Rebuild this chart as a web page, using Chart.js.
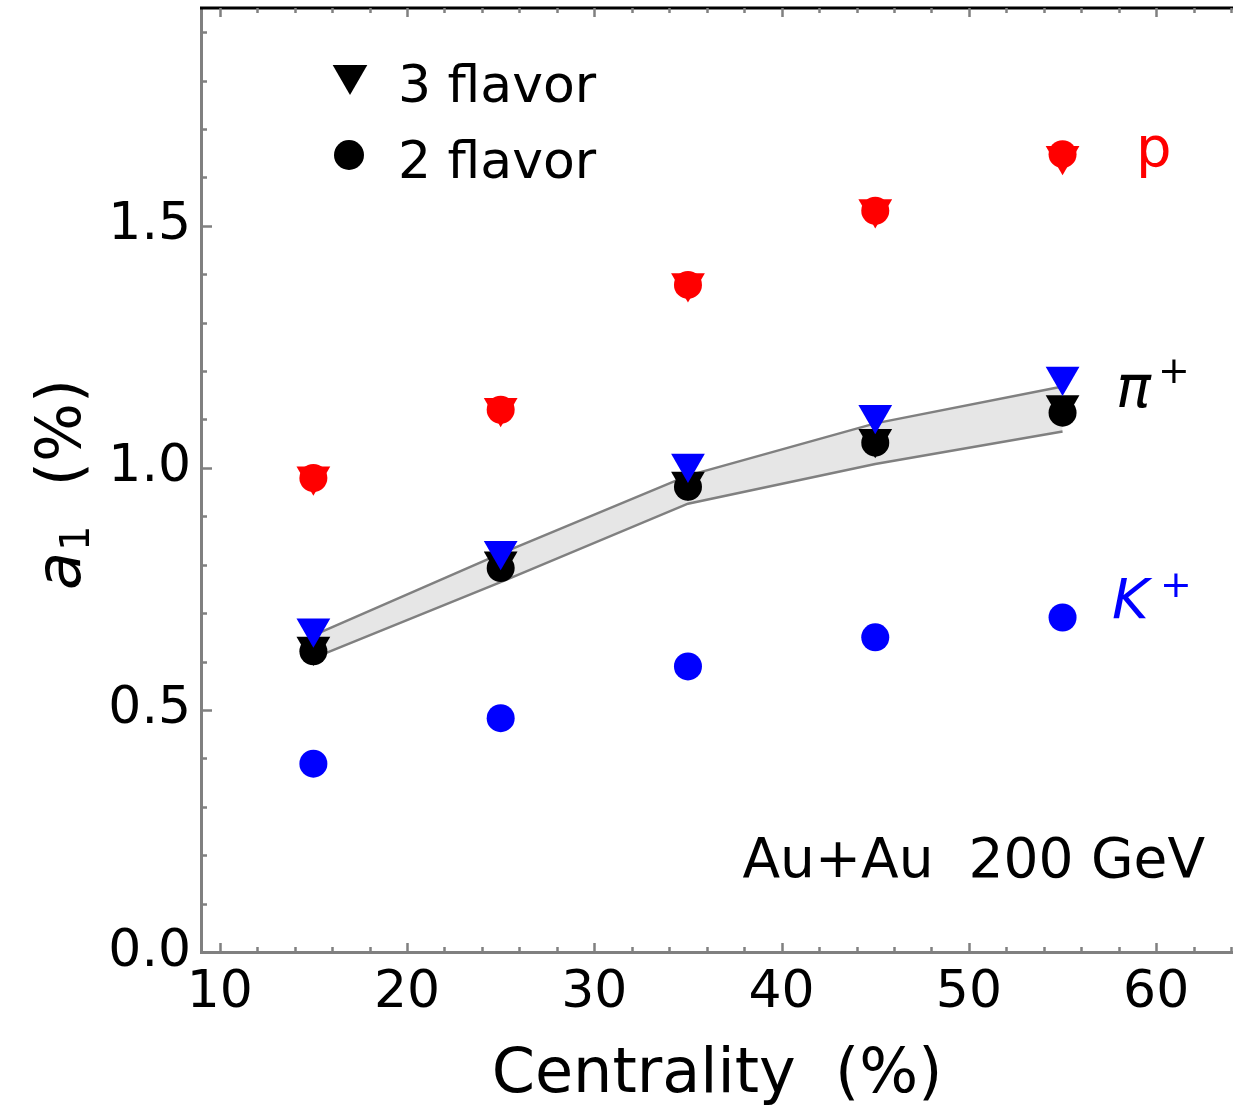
<!DOCTYPE html>
<html>
<head>
<meta charset="utf-8">
<script src="https://cdn.jsdelivr.net/npm/chart.js@4/dist/chart.umd.min.js"></script>
<style>
  html, body { margin: 0; padding: 0; background: #fff; }
  #wrap { width: 1233px; height: 1111px; }
</style>
</head>
<body>
<div id="wrap"><canvas id="a1Chart" width="1233" height="1111"></canvas></div>
<script>
/* a1 vs centrality, Au+Au 200 GeV */

const CENTRALITY = [15, 25, 35, 45, 55];

// proton (red)
const P_3FLAVOR = [0.983, 1.124, 1.382, 1.535, 1.645];
const P_2FLAVOR = [0.979, 1.120, 1.378, 1.531, 1.648];
// pi+ (black)
const PI_3FLAVOR = [0.631, 0.807, 0.972, 1.060, 1.130];
const PI_2FLAVOR = [0.621, 0.793, 0.961, 1.052, 1.114];
// K+ (blue)
const K_3FLAVOR = [0.669, 0.829, 1.009, 1.110, 1.189];
const K_2FLAVOR = [0.389, 0.483, 0.590, 0.650, 0.691];
// grey band around pi+
const BAND_UPPER = [0.654, 0.823, 0.984, 1.092, 1.168];
const BAND_LOWER = [0.607, 0.764, 0.926, 1.008, 1.075];

const X_TICKS = [10, 20, 30, 40, 50, 60];
const Y_TICKS = [0.0, 0.5, 1.0, 1.5];

const FONT = "'DejaVu Sans', sans-serif";
const RED = '#ff0000', BLUE = '#0000ff', BLACK = '#000000', GREY = '#808080';

const pts = ys => CENTRALITY.map((x, i) => ({ x, y: ys[i] }));

function markers(label, ys, color, style) {
  const tri = style === 'triangle';
  return {
    label,
    data: pts(ys),
    showLine: false,
    pointStyle: style,
    rotation: tri ? 180 : 0,
    pointRadius: tri ? 19.5 : 14,
    pointBackgroundColor: color,
    pointBorderWidth: 0,
    borderColor: color,
  };
}

/* ── inward ticks, top frame, legend and labels ── */
const decor = {
  id: 'decor',
  afterDraw(chart) {
    const { ctx, chartArea: ca, scales: { x, y } } = chart;
    ctx.save();

    // top frame
    ctx.strokeStyle = BLACK;
    ctx.lineWidth = 3;
    ctx.beginPath();
    ctx.moveTo(ca.left - 1, ca.top);
    ctx.lineTo(ca.right, ca.top);
    ctx.stroke();

    ctx.strokeStyle = GREY;
    ctx.lineWidth = 2.5;
    ctx.beginPath();
    for (let i = 0; i <= 19; i++) {
      const v = i / 10;
      const py = Math.round(y.getPixelForValue(v)) + 0.5;
      const len = i % 5 === 0 ? 11 : 6;
      ctx.moveTo(ca.left, py);
      ctx.lineTo(ca.left + len, py);
    }
    for (let v = 10; v <= 64; v += 2) {
      const px = Math.round(x.getPixelForValue(v)) + 0.5;
      const len = v % 10 === 0 ? 9 : 5;
      ctx.moveTo(px, ca.bottom);
      ctx.lineTo(px, ca.bottom - len);
      ctx.moveTo(px, ca.top);
      ctx.lineTo(px, ca.top + len);
    }
    ctx.stroke();

    // legend
    ctx.fillStyle = BLACK;
    Chart.helpers.drawPoint(ctx, { pointStyle: 'triangle', rotation: 180, radius: 20, borderWidth: 0 }, 350, 75);
    Chart.helpers.drawPoint(ctx, { pointStyle: 'circle', radius: 15, borderWidth: 0 }, 349, 155);
    ctx.font = `52px ${FONT}`;
    ctx.textBaseline = 'alphabetic';
    ctx.textAlign = 'left';
    ctx.fillText('3 flavor', 398, 102);
    ctx.fillText('2 flavor', 398, 178);

    // species labels
    ctx.fillStyle = RED;
    ctx.font = `56px ${FONT}`;
    ctx.fillText('p', 1136, 166);

    ctx.fillStyle = BLACK;
    ctx.font = `italic 58px ${FONT}`;
    ctx.fillText('π', 1116, 407);
    ctx.font = `38px ${FONT}`;
    ctx.fillText('+', 1158, 383);

    ctx.fillStyle = BLUE;
    ctx.font = `italic 56px ${FONT}`;
    ctx.fillText('K', 1112, 618);
    ctx.font = `38px ${FONT}`;
    ctx.fillText('+', 1160, 597);

    // system label
    ctx.fillStyle = BLACK;
    ctx.font = `55px ${FONT}`;
    ctx.textAlign = 'right';
    ctx.fillText('Au+Au  200 GeV', 1205, 877);

    // y title: a_1  (%)
    ctx.translate(80, 590);
    ctx.rotate(-Math.PI / 2);
    ctx.textAlign = 'left';
    ctx.font = `italic 62px ${FONT}`;
    ctx.fillText('a', 0, 0);
    let off = ctx.measureText('a').width + 1;
    ctx.font = `40px ${FONT}`;
    ctx.fillText('1', off, 9);
    off += ctx.measureText('1').width;
    ctx.font = `62px ${FONT}`;
    ctx.fillText('  (%)', off, 0);

    ctx.restore();
  }
};

new Chart(document.getElementById('a1Chart'), {
  type: 'line',
  data: {
    datasets: [
      markers('K+ 3 flavor', K_3FLAVOR, BLUE, 'triangle'),
      markers('p 3 flavor', P_3FLAVOR, RED, 'triangle'),
      markers('p 2 flavor', P_2FLAVOR, RED, 'circle'),
      markers('pi+ 3 flavor', PI_3FLAVOR, BLACK, 'triangle'),
      markers('pi+ 2 flavor', PI_2FLAVOR, BLACK, 'circle'),
      markers('K+ 2 flavor', K_2FLAVOR, BLUE, 'circle'),
      {
        label: 'band upper',
        data: pts(BAND_UPPER),
        borderColor: GREY,
        borderWidth: 2.5,
        pointRadius: 0,
        tension: 0,
        fill: '+1',
        backgroundColor: '#e6e6e6',
      },
      {
        label: 'band lower',
        data: pts(BAND_LOWER),
        borderColor: GREY,
        borderWidth: 2.5,
        pointRadius: 0,
        tension: 0,
        fill: false,
      },
    ]
  },
  options: {
    responsive: false,
    animation: false,
    layout: { autoPadding: false, padding: { top: 8, right: 0, left: 0, bottom: 0 } },
    plugins: {
      legend: { display: false },
      tooltip: { enabled: false },
      filler: { drawTime: 'beforeDatasetsDraw' },
    },
    scales: {
      x: {
        type: 'linear',
        min: 9,
        max: 64.1,
        afterBuildTicks: s => { s.ticks = X_TICKS.map(value => ({ value })); },
        afterFit: s => { s.height = 159; s.paddingLeft = 0; s.paddingRight = 0; },
        grid: { display: false, drawTicks: false },
        border: { display: true, color: GREY, width: 3 },
        ticks: { color: BLACK, padding: 10, font: { family: FONT, size: 52 }, maxRotation: 0 },
        title: { display: true, text: 'Centrality  (%)', color: BLACK, padding: { top: 0, bottom: -2 }, font: { family: FONT, size: 62 } },
      },
      y: {
        type: 'linear',
        min: 0,
        max: 1.95,
        afterBuildTicks: s => { s.ticks = Y_TICKS.map(value => ({ value })); },
        afterFit: s => { s.width = 201; s.paddingTop = 0; s.paddingBottom = 0; },
        grid: { display: false, drawTicks: false },
        border: { display: true, color: GREY, width: 3 },
        ticks: { color: BLACK, padding: 10, font: { family: FONT, size: 52 }, callback: v => v.toFixed(1) },
      }
    }
  },
  plugins: [decor]
});
</script>
</body>
</html>
